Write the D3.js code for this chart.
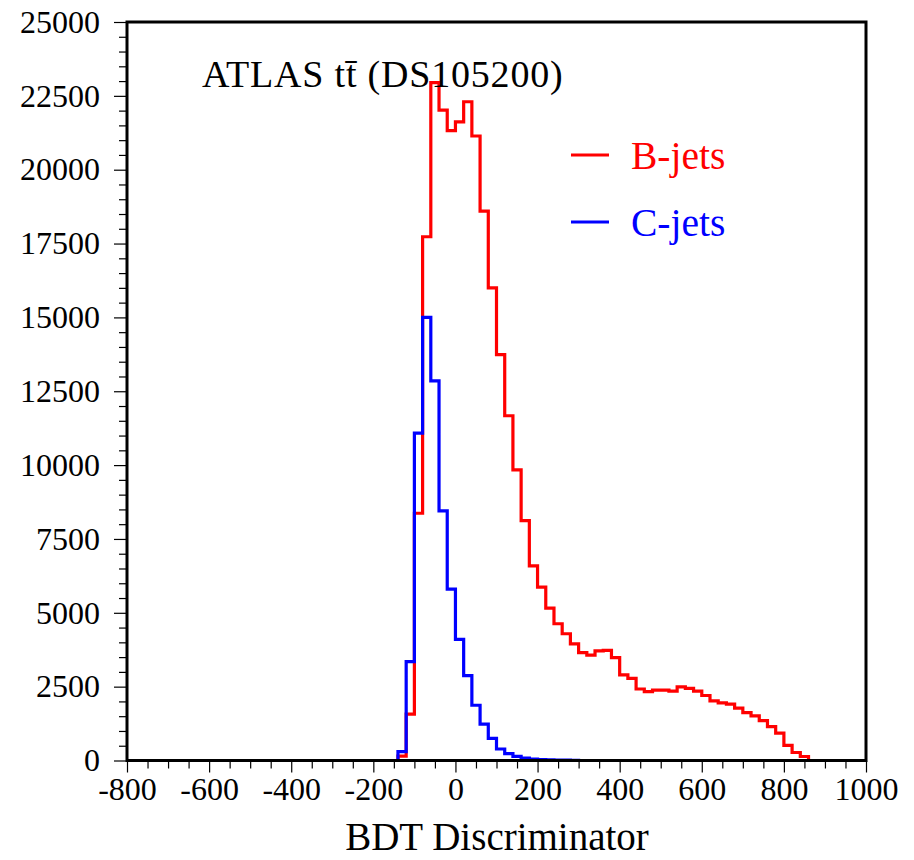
<!DOCTYPE html>
<html>
<head>
<meta charset="utf-8">
<script src="https://cdn.jsdelivr.net/npm/d3@7"></script>
<style>
  html, body { margin: 0; padding: 0; background: #fff; }
  svg { display: block; }
  text { font-family: "Liberation Serif", "Times New Roman", serif; fill: #000; }
</style>
</head>
<body>
<svg id="chart" width="914" height="860"></svg>
<script>
// BDT discriminator histograms, fixed bin width
const binWidth = 20;

// B-jets: first bin starts at -140
const bStart = -140;
const bJets = [
  150, 1570, 8370, 17730, 22950, 22020, 21320, 21620, 22300, 21140,
  18600, 16000, 13740, 11670, 9840, 8120, 6590, 5870, 5160, 4630,
  4290, 3950, 3650, 3570, 3710, 3730, 3480, 2900, 2780, 2420,
  2330, 2380, 2380, 2350, 2490, 2440, 2350, 2200, 2020, 1950,
  1910, 1770, 1620, 1510, 1350, 1150, 930, 510, 270, 135
];

// C-jets: first bin starts at -140
const cStart = -140;
const cJets = [
  300, 3350, 11080, 15000, 12850, 8450, 5800, 4100, 2870, 1870,
  1230, 750, 390, 230, 140, 80, 45, 30, 20, 15, 10, 8
];

const xTicks = [-800, -600, -400, -200, 0, 200, 400, 600, 800, 1000];
const yTicks = [0, 2500, 5000, 7500, 10000, 12500, 15000, 17500, 20000, 22500, 25000];

const seriesNames = ["B-jets", "C-jets"];
const seriesColors = ["#ff0000", "#0000ff"];

const titleText = "ATLAS tt\u0304 (DS105200)";
const xLabel = "BDT Discriminator";

const svg = d3.select("#chart");
const plotL = 127, plotR = 866, plotT = 22, plotB = 760.5;

const x = d3.scaleLinear().domain([-800, 1000]).range([plotL, plotR]);
const y = d3.scaleLinear().domain([0, 25000]).range([plotB, plotT]);

// minor ticks
const xMinor = d3.range(-800, 1001, 50).filter(v => !xTicks.includes(v));
const yMinor = d3.range(0, 25001, 500).filter(v => !yTicks.includes(v));

const tickFont = "32px";
const plainNum = d => String(d);   // ASCII hyphen for negatives

// x axis
const gx = svg.append("g").attr("transform", `translate(0,${plotB})`);
gx.call(d3.axisBottom(x).tickValues(xMinor).tickSize(8).tickFormat(""));
gx.select(".domain").remove();
const gx2 = svg.append("g").attr("transform", `translate(0,${plotB})`);
gx2.call(d3.axisBottom(x).tickValues(xTicks).tickSize(12).tickPadding(5).tickFormat(plainNum));
gx2.select(".domain").remove();
gx2.selectAll("text").style("font-size", tickFont).style("font-family", "Liberation Serif").attr("fill", "#000");

// y axis
const gy = svg.append("g").attr("transform", `translate(${plotL},0)`);
gy.call(d3.axisLeft(y).tickValues(yMinor).tickSize(8).tickFormat(""));
gy.select(".domain").remove();
const gy2 = svg.append("g").attr("transform", `translate(${plotL},0)`);
gy2.call(d3.axisLeft(y).tickValues(yTicks).tickSize(13).tickPadding(14).tickFormat(plainNum));
gy2.select(".domain").remove();
gy2.selectAll("text").style("font-size", tickFont).style("font-family", "Liberation Serif").attr("fill", "#000");

svg.selectAll(".tick line").attr("stroke", "#000").attr("stroke-width", 1.2);

// histogram outline from bin values
function histPoints(start, vals) {
  const pts = [[start, 0]];
  vals.forEach((v, i) => {
    const x0 = start + i * binWidth;
    pts.push([x0, v], [x0 + binWidth, v]);
  });
  pts.push([start + vals.length * binWidth, 0]);
  return pts;
}
const line = d3.line().x(d => x(d[0])).y(d => y(d[1]));

[[bStart, bJets], [cStart, cJets]].forEach(([s, vals], i) => {
  svg.append("path")
    .attr("d", line(histPoints(s, vals)))
    .attr("fill", "none")
    .attr("stroke", seriesColors[i])
    .attr("stroke-width", 3.2)
    .attr("stroke-linejoin", "miter");
});

// frame
svg.append("rect")
  .attr("x", plotL).attr("y", plotT)
  .attr("width", plotR - plotL).attr("height", plotB - plotT)
  .attr("fill", "none").attr("stroke", "#000").attr("stroke-width", 3);

// title
svg.append("text")
  .attr("x", 202).attr("y", 87)
  .style("font-size", "38px")
  .style("letter-spacing", "0.8px")
  .text(titleText);

// legend
const legY = [155, 222];
seriesNames.forEach((name, i) => {
  svg.append("line")
    .attr("x1", 571).attr("x2", 609)
    .attr("y1", legY[i]).attr("y2", legY[i])
    .attr("stroke", seriesColors[i]).attr("stroke-width", 3);
  svg.append("text")
    .attr("x", 631).attr("y", legY[i] + 14)
    .style("font-size", "39.5px")
    .style("fill", seriesColors[i])
    .text(name);
});

// x axis label
svg.append("text")
  .attr("x", 497).attr("y", 850)
  .attr("text-anchor", "middle")
  .style("font-size", "39px")
  .text(xLabel);
</script>
</body>
</html>
